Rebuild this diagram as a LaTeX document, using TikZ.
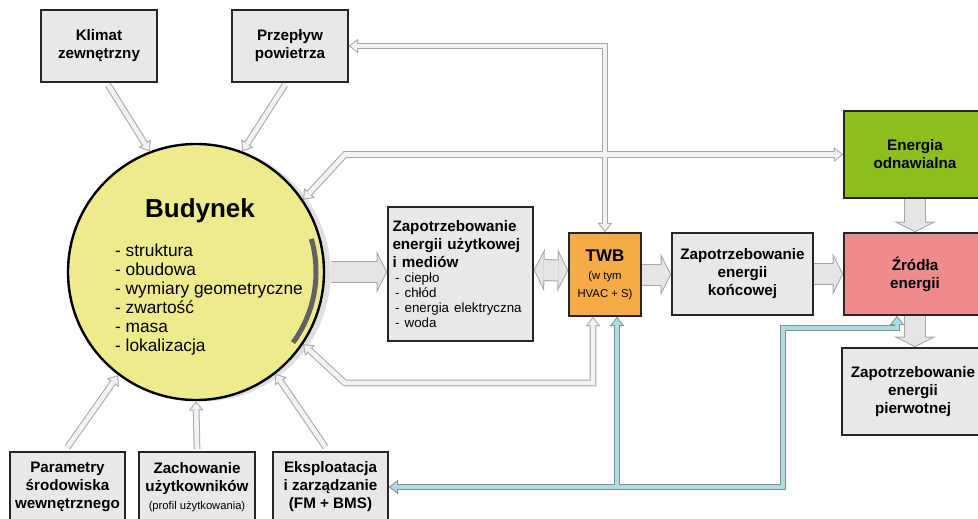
\documentclass[tikz,border=0pt]{standalone}
\usepackage{fontspec}
\setmainfont{Liberation Sans}
\usetikzlibrary{arrows.meta,calc,shadows}
\definecolor{zolty}{RGB}{237,235,140}
\definecolor{pomaranczowy}{RGB}{246,170,72}
\definecolor{zielony}{RGB}{141,190,30}
\definecolor{rozowy}{RGB}{238,139,140}
\definecolor{blekit}{RGB}{170,221,228}
\tikzset{
  ramka/.style={draw=black!85, line width=1.2pt, fill=black!9, align=center,
    font=\fontsize{11.4}{13.5}\selectfont\bfseries, inner sep=1pt},
  rura/.style={draw=black!35, line width=5pt},
  rurasrodek/.style={draw=black!5, line width=3.5pt},
  niebieska/.style={draw=black!45, line width=5pt},
  niebieskasrodek/.style={draw=blekit, line width=3.5pt},
  blok/.style={draw=black!35, line width=16.5pt},
  bloksrodek/.style={draw=black!10, line width=15pt},
  grot/.tip={Triangle[length=7pt,width=11pt,line width=0pt]},
  grotsrodek/.tip={Triangle[length=5pt,width=7.9pt,line width=0pt]},
  grotblok/.tip={Triangle[length=8pt,width=32pt,line width=0pt]},
  grotbloksrodek/.tip={Triangle[length=6.4pt,width=25.6pt,line width=0pt]},
}
\begin{document}
\begin{tikzpicture}[x=0.75pt,y=-0.75pt]
\clip (0,0) rectangle (978,518);
% bloki
\node[ramka, minimum width=87pt, minimum height=54pt] (klimat) at (99,46) {Klimat\\zewnętrzny};
\node[ramka, minimum width=87pt, minimum height=54pt] (przeplyw) at (290,46) {Przepływ\\powietrza};
\node[circle, draw=black, line width=1.8pt, fill=zolty, minimum size=192pt, inner sep=0pt,
  drop shadow={shadow xshift=5pt, shadow yshift=-1pt, fill=black!12, opacity=1}] (budynek) at (196,272) {};
\node[font=\fontsize{19.5}{23}\selectfont\bfseries] (budynektytul) at (200,211) {Budynek};
\node[align=left, font=\fontsize{13}{14.25}\selectfont] (budynekcechy) at (209,300)
  {- struktura\\- obudowa\\- wymiary geometryczne\\- zwartość\\- masa\\- lokalizacja};
\draw[line width=3.75pt, draw=black!62] ([shift={(16:90pt)}]budynek.center) arc[start angle=16, end angle=-36, radius=90pt];
\node[ramka, minimum width=108.75pt, minimum height=100.5pt, align=left, text width=102pt] (uzytk) at (460.5,274)
  {Zapotrzebowanie\\energii użytkowej\\i mediów\par
   {\mdseries\fontsize{10}{11.25}\selectfont\hspace*{2pt}- ciepło\\\hspace*{2pt}- chłód\\\hspace*{2pt}- energia elektryczna\\\hspace*{2pt}- woda\par}};
\node[ramka, fill=pomaranczowy, minimum width=54pt, minimum height=62.25pt] (twb) at (605,274.5)
  {{\fontsize{12.7}{15}\selectfont TWB}\\{\mdseries\fontsize{8.5}{11}\selectfont (w tym}\\{\mdseries\fontsize{8.5}{11}\selectfont HVAC + S)}};
\node[ramka, minimum width=105.75pt, minimum height=61.5pt] (koncowa) at (742.5,274) {Zapotrzebowanie\\energii\\końcowej};
\node[ramka, fill=zielony, minimum width=106.5pt, minimum height=65.25pt] (odnaw) at (915,154.5) {Energia\\odnawialna};
\node[ramka, fill=rozowy, minimum width=106.5pt, minimum height=61.5pt] (zrodla) at (915,274) {Źródła\\energii};
\node[ramka, minimum width=106.5pt, minimum height=65.25pt] (pierwotna) at (913,391.5) {Zapotrzebowanie\\energii\\pierwotnej};
\node[ramka, minimum width=86.25pt, minimum height=52.5pt] (parametry) at (67.5,487) {Parametry\\środowiska\\wewnętrznego};
\node[ramka, minimum width=87pt, minimum height=52.5pt] (zachowanie) at (197,487)
  {Zachowanie\\użytkowników\\{\mdseries\fontsize{8.4}{10}\selectfont (profil użytkowania)}};
\node[ramka, minimum width=86.25pt, minimum height=52.5pt] (eksploatacja) at (330.5,487) {Eksploatacja\\i zarządzanie\\(FM + BMS)};
% punkty zalaman
\coordinate (zakret1) at (783,328);
\coordinate (zakret2) at (345,383);
\coordinate (zakret3) at (345,0);
\coordinate (twbL) at ($(twb.south)+(-12,0)$);
\coordinate (twbP) at ($(twb.south)+(12,0)$);
\coordinate (zrodlaB) at ($(zrodla.south)+(-18,0)$);
% obrys strzalek
\draw[rura,-grot] ($(klimat.south)+(9,2)$) -- (budynek.111);
\draw[rura,-grot] ($(przeplyw.south)+(-5,2)$) -- (budynek.69);
\draw[rura,grot-grot] (przeplyw.east) -- (przeplyw.east -| twb.north) -- (twb.north);
\draw[rura,grot-grot] (budynek.34) -- (zakret3 |- odnaw.west) -- (odnaw.west);
\draw[rura,grot-grot] (budynek.-34) -- (zakret2) -- (zakret2 -| twbL) -- (twbL);
\draw[rura,-grot] ($(parametry.north)+(0,-4)$) -- (budynek.-127);
\draw[rura,-grot] ($(zachowanie.north)+(0,-2)$) -- (budynek.-90);
\draw[rura,-grot] ($(eksploatacja.north)+(-5,-4)$) -- (budynek.-52);
\draw[niebieska,grot-grot] (eksploatacja.east) -- (eksploatacja.east -| zakret1) -- (zakret1) -- (zakret1 -| zrodlaB) -- (zrodlaB);
\draw[niebieska,-grot] (twbP |- eksploatacja.east) -- (twbP);
\draw[blok,-grotblok] ($(budynek.east)+(6,0)$) -- (budynek.east -| uzytk.west);
\draw[blok,grotblok-grotblok] ($(uzytk.east)+(0,-4)$) -- ($(twb.west)+(0,-4)$);
\draw[blok,-grotblok] (twb.east) -- (twb.east -| koncowa.west);
\draw[blok,-grotblok] (koncowa.east) -- (koncowa.east -| zrodla.west);
\draw[blok,-grotblok] (odnaw.south) -- (zrodla.north);
\draw[blok,-grotblok] (zrodla.south) -- (zrodla.south |- pierwotna.north);
% wypelnienie strzalek
\draw[rurasrodek,-grotsrodek,shorten >=1.2pt] ($(klimat.south)+(9,2)$) -- (budynek.111);
\draw[rurasrodek,-grotsrodek,shorten >=1.2pt] ($(przeplyw.south)+(-5,2)$) -- (budynek.69);
\draw[rurasrodek,grotsrodek-grotsrodek,shorten >=1.2pt,shorten <=1.2pt] (przeplyw.east) -- (przeplyw.east -| twb.north) -- (twb.north);
\draw[rurasrodek,grotsrodek-grotsrodek,shorten >=1.2pt,shorten <=1.2pt] (budynek.34) -- (zakret3 |- odnaw.west) -- (odnaw.west);
\draw[rurasrodek,grotsrodek-grotsrodek,shorten >=1.2pt,shorten <=1.2pt] (budynek.-34) -- (zakret2) -- (zakret2 -| twbL) -- (twbL);
\draw[rurasrodek,-grotsrodek,shorten >=1.2pt] ($(parametry.north)+(0,-4)$) -- (budynek.-127);
\draw[rurasrodek,-grotsrodek,shorten >=1.2pt] ($(zachowanie.north)+(0,-2)$) -- (budynek.-90);
\draw[rurasrodek,-grotsrodek,shorten >=1.2pt] ($(eksploatacja.north)+(-5,-4)$) -- (budynek.-52);
\draw[niebieskasrodek,grotsrodek-grotsrodek,shorten >=1.2pt,shorten <=1.2pt] (eksploatacja.east) -- (eksploatacja.east -| zakret1) -- (zakret1) -- (zakret1 -| zrodlaB) -- (zrodlaB);
\draw[niebieskasrodek,-grotsrodek,shorten >=1.2pt] (twbP |- eksploatacja.east) -- (twbP);
\draw[bloksrodek,-grotbloksrodek,shorten >=0.84pt] ($(budynek.east)+(6,0)$) -- (budynek.east -| uzytk.west);
\draw[bloksrodek,grotbloksrodek-grotbloksrodek,shorten >=0.84pt,shorten <=0.84pt] ($(uzytk.east)+(0,-4)$) -- ($(twb.west)+(0,-4)$);
\draw[bloksrodek,-grotbloksrodek,shorten >=0.84pt] (twb.east) -- (twb.east -| koncowa.west);
\draw[bloksrodek,-grotbloksrodek,shorten >=0.84pt] (koncowa.east) -- (koncowa.east -| zrodla.west);
\draw[bloksrodek,-grotbloksrodek,shorten >=0.84pt] (odnaw.south) -- (zrodla.north);
\draw[bloksrodek,-grotbloksrodek,shorten >=0.84pt] (zrodla.south) -- (zrodla.south |- pierwotna.north);
\end{tikzpicture}
\end{document}
